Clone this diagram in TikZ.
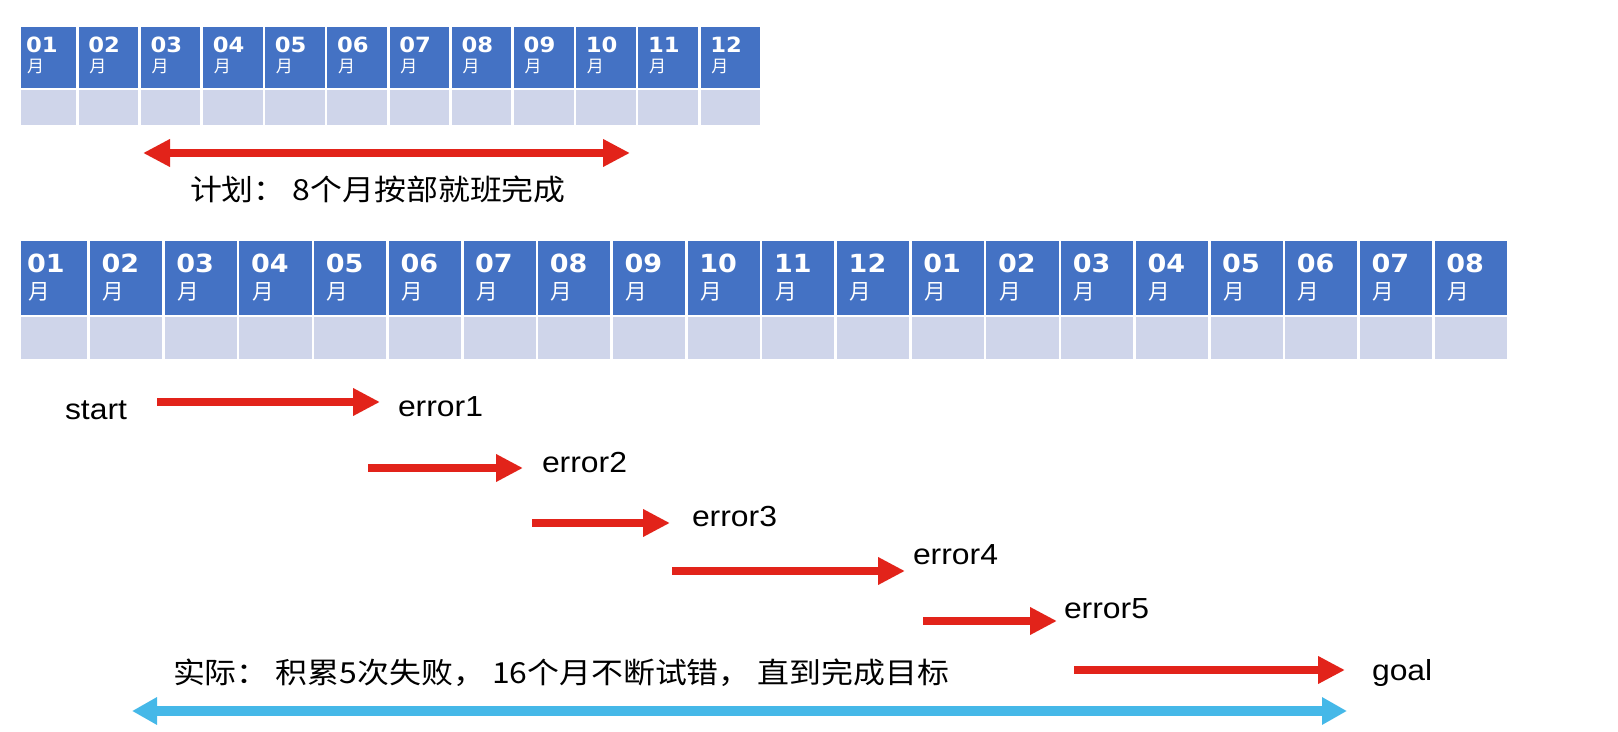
\documentclass[tikz,border=0pt]{standalone}
\usepackage{fontspec}
\setmainfont{Liberation Sans}[FakeStretch=1.1]
\newfontfamily\cjkfont{Noto Sans CJK SC}
\newfontfamily\cjkwide{Noto Sans CJK SC}[FakeStretch=1.1]
\newfontfamily\numfont{DejaVu Sans}[FakeStretch=1.08]
\usetikzlibrary{arrows.meta, positioning, calc}

\definecolor{headblue}{HTML}{4472C4}
\definecolor{rowgrey}{HTML}{CFD5EA}
\definecolor{arrowred}{HTML}{E2231A}
\definecolor{arrowblue}{HTML}{45B8E8}

\tikzstyle{headcell} = [fill=headblue, draw=white, line width=1.3pt]
\tikzstyle{bodycell} = [fill=rowgrey, draw=white, line width=1.3pt]
\tikzstyle{smallnum} = [text=white, font=\numfont\bfseries\fontsize{10.5}{10.5}\selectfont]
\tikzstyle{smallmonth} = [text=white, font=\cjkfont\fontsize{8.5}{8.5}\selectfont]
\tikzstyle{bignum} = [text=white, font=\numfont\bfseries\fontsize{12.5}{12.5}\selectfont]
\tikzstyle{bigmonth} = [text=white, font=\cjkfont\fontsize{10.8}{10.8}\selectfont]
\tikzstyle{lbl} = [font=\fontsize{14.5}{14.5}\selectfont]
\tikzstyle{cjklabel} = [font=\cjkwide\fontsize{14.5}{14.5}\selectfont]
\tikzstyle{redarrow} = [line width=4.2pt, draw=arrowred, -{Triangle[length=13.5pt,width=13pt]}]
\tikzstyle{planarrow} = [line width=4.2pt, draw=arrowred, {Triangle[length=13.5pt,width=13pt]}-{Triangle[length=13.5pt,width=13pt]}]
\tikzstyle{totalarrow} = [line width=4.6pt, draw=arrowblue, {Triangle[length=12.5pt,width=13pt]}-{Triangle[length=12.5pt,width=13pt]}]

\begin{document}
\begin{tikzpicture}[x=0.5pt, y=-0.5pt, every node/.style={inner sep=0pt, outer sep=0pt}]
    \useasboundingbox (0,0) rectangle (1618,732);

    % plan: 12 months
    \foreach \i in {1,...,12} {
        \pgfmathsetmacro{\xn}{15.2+62.19*(\i-1)}
        \pgfmathsetmacro{\xl}{max(19.5,\xn)}
        \pgfmathsetmacro{\xr}{\xn+62.19}
        \path[headcell] (\xl,26) rectangle (\xr,89);
        \path[bodycell] (\xl,89) rectangle (\xr,126);
        \node[smallnum, anchor=base west] (pn\i) at (\xn+11,53) {\ifnum\i<10 0\fi\i};
        \node[smallmonth, anchor=base west] (py\i) at (\xn+12,73) {月};
    }
    \coordinate (planL) at (143,153);
    \coordinate (planR) at (630,153);
    \draw[planarrow] (planL) -- (planR);
    \node[cjklabel, anchor=base west] (plan) at (190,201) {计划： 8个月按部就班完成};

    % actual: 20 months
    \foreach \i in {1,...,20} {
        \pgfmathsetmacro{\xn}{14+74.7*(\i-1)}
        \pgfmathsetmacro{\xl}{max(19.5,\xn)}
        \pgfmathsetmacro{\xr}{\xn+74.7}
        \pgfmathtruncatemacro{\mon}{mod(\i-1,12)+1}
        \path[headcell] (\xl,240) rectangle (\xr,316);
        \path[bodycell] (\xl,316) rectangle (\xr,360);
        \node[bignum, anchor=base west] (an\i) at (\xn+13,273) {\ifnum\mon<10 0\fi\mon};
        \node[bigmonth, anchor=base west] (ay\i) at (\xn+14,300) {月};
    }

    % labels
    \node[lbl, anchor=base west] (start) at (65,420) {start};
    \node[lbl, anchor=base west] (err1) at (398,417) {error1};
    \node[lbl, anchor=base west] (err2) at (542,473) {error2};
    \node[lbl, anchor=base west] (err3) at (692,527) {error3};
    \node[lbl, anchor=base west] (err4) at (913,565) {error4};
    \node[lbl, anchor=base west] (err5) at (1064,618) {error5};
    \node[lbl, anchor=base west] (goal) at (1372,680) {goal};
    \node[cjklabel, anchor=base west] (actual) at (173,683) {实际： 积累5次失败， 16个月不断试错， 直到完成目标};

    % tries
    \coordinate (t1a) at (157,402);  \coordinate (t1b) at (380,402);
    \coordinate (t2a) at (368,468);  \coordinate (t2b) at (523,468);
    \coordinate (t3a) at (532,523);  \coordinate (t3b) at (670,523);
    \coordinate (t4a) at (672,571);  \coordinate (t4b) at (905,571);
    \coordinate (t5a) at (923,621);  \coordinate (t5b) at (1057,621);
    \coordinate (t6a) at (1074,670); \coordinate (t6b) at (1345,670);
    \draw[redarrow] (t1a) -- (t1b);
    \draw[redarrow] (t2a) -- (t2b);
    \draw[redarrow] (t3a) -- (t3b);
    \draw[redarrow] (t4a) -- (t4b);
    \draw[redarrow] (t5a) -- (t5b);
    \draw[redarrow] (t6a) -- (t6b);

    \coordinate (totalL) at (132,711);
    \coordinate (totalR) at (1347,711);
    \draw[totalarrow] (totalL) -- (totalR);
\end{tikzpicture}
\end{document}
